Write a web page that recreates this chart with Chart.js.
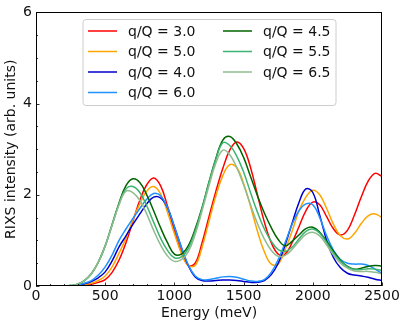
<!DOCTYPE html>
<html>
<head>
<meta charset="utf-8">
<script src="https://cdn.jsdelivr.net/npm/chart.js@4/dist/chart.umd.min.js"></script>
<style>
  html, body { margin: 0; padding: 0; background: #ffffff; }
  #wrap { position: relative; width: 407px; height: 327px; }
</style>
</head>
<body>
<div id="wrap"><canvas id="c" width="407" height="327"></canvas></div>
<script>
// ---- data (energies in meV, intensities in arb. units) ----
const energy = [0,50,100,150,200,250,300,350,400,450,500,550,600,650,700,750,800,850,900,950,
  1000,1050,1100,1150,1200,1250,1300,1350,1400,1450,1500,1550,1600,1650,1700,1750,1800,1850,1900,1950,
  2000,2050,2100,2150,2200,2250,2300,2350,2400,2450,2500];

const seriesLabels = ['q/Q = 3.0','q/Q = 5.0','q/Q = 4.0','q/Q = 6.0','q/Q = 4.5','q/Q = 5.5','q/Q = 6.5'];
const seriesColors = ['#ff0000','#ffa500','#0000cd','#1e90ff','#006400','#3cb371','#8fbc8f'];

const q30 = [0,0,0,0,0,0,0.01,0.02,0.04,0.08,0.14,0.30,0.57,0.95,1.42,1.88,2.22,2.37,2.20,1.75,
  1.20,0.75,0.45,0.50,0.95,1.52,2.08,2.58,2.98,3.16,3.02,2.60,2.00,1.40,0.95,0.70,0.70,0.95,1.30,1.65,
  1.84,1.78,1.52,1.25,1.12,1.22,1.55,1.95,2.30,2.47,2.40];
const q50 = [0,0,0,0,0,0,0.01,0.03,0.06,0.12,0.22,0.42,0.72,1.05,1.45,1.80,2.08,2.18,2.02,1.62,
  1.15,0.72,0.45,0.45,0.85,1.42,1.98,2.42,2.66,2.60,2.25,1.75,1.20,0.75,0.48,0.48,0.80,1.20,1.65,1.95,
  2.10,2.00,1.70,1.35,1.10,1.03,1.15,1.37,1.54,1.58,1.50];
const q40 = [0,0,0,0,0,0,0.02,0.05,0.10,0.18,0.31,0.55,0.86,1.10,1.35,1.58,1.80,1.95,1.93,1.72,
  1.30,0.85,0.45,0.20,0.12,0.11,0.12,0.13,0.13,0.12,0.10,0.08,0.08,0.12,0.25,0.50,0.90,1.37,1.83,2.13,
  2.05,1.55,1.00,0.62,0.40,0.28,0.24,0.22,0.19,0.15,0.12];
const q60 = [0,0,0,0,0,0,0.02,0.06,0.12,0.24,0.42,0.68,1.00,1.25,1.48,1.70,1.90,2.03,1.98,1.72,
  1.30,0.85,0.46,0.22,0.14,0.14,0.17,0.20,0.21,0.19,0.15,0.11,0.10,0.14,0.30,0.58,0.95,1.35,1.65,1.80,
  1.78,1.50,1.10,0.78,0.58,0.50,0.48,0.48,0.45,0.37,0.27];
const q45 = [0,0,0,0,0,0.01,0.04,0.12,0.27,0.52,0.88,1.35,1.82,2.20,2.35,2.27,2.00,1.65,1.28,0.95,
  0.70,0.70,0.88,1.25,1.72,2.28,2.80,3.20,3.28,3.12,2.82,2.40,1.98,1.60,1.28,1.02,0.88,0.98,1.12,1.26,
  1.29,1.18,0.98,0.76,0.56,0.43,0.37,0.39,0.43,0.45,0.44];
const q55 = [0,0,0,0,0,0.01,0.04,0.12,0.27,0.52,0.88,1.34,1.80,2.13,2.18,2.05,1.76,1.40,1.05,0.78,
  0.62,0.64,0.82,1.20,1.70,2.27,2.78,3.14,3.08,2.85,2.50,2.05,1.62,1.25,0.98,0.80,0.76,0.85,1.03,1.20,
  1.25,1.16,0.95,0.72,0.54,0.42,0.36,0.36,0.38,0.37,0.34];
const q65 = [0,0,0,0,0,0.01,0.04,0.12,0.27,0.52,0.88,1.33,1.78,2.08,2.05,1.88,1.58,1.22,0.90,0.66,
  0.54,0.58,0.75,1.13,1.65,2.20,2.70,2.98,2.88,2.60,2.22,1.78,1.37,1.03,0.78,0.65,0.67,0.80,0.98,1.13,
  1.18,1.10,0.90,0.68,0.50,0.39,0.33,0.32,0.32,0.30,0.27];

const seriesValues = [q30, q50, q40, q60, q45, q55, q65];

const xTicks = [0, 500, 1000, 1500, 2000, 2500];
const yTicks = [0, 2, 4, 6];

// ---- chart ----
const FONT = "'DejaVu Sans', 'Liberation Sans', sans-serif";
const TXT = '#111111';

const datasets = seriesValues.map((vals, i) => ({
  label: seriesLabels[i],
  data: energy.map((e, k) => ({x: e, y: vals[k]})),
  borderColor: seriesColors[i],
  backgroundColor: seriesColors[i],
  borderWidth: 1.5,
  pointRadius: 0,
  tension: 0.4,
  fill: false,
  order: seriesValues.length - i
}));

const frameTicks = {
  id: 'frameTicks',
  afterDatasetsDraw(chart) {
    const {ctx, chartArea: a, scales: {x, y}} = chart;
    ctx.save();
    ctx.strokeStyle = '#000';
    ctx.lineWidth = 0.8;
    for (let v = 0; v <= 2500; v += 100) {
      const px = Math.round(x.getPixelForValue(v)) + 0.5;
      const len = (v % 500 === 0) ? 3.5 : 2;
      ctx.beginPath(); ctx.moveTo(px, a.bottom); ctx.lineTo(px, a.bottom - len); ctx.stroke();
    }
    for (let v = 0; v <= 6.0001; v += 0.5) {
      const py = Math.round(y.getPixelForValue(v)) + 0.5;
      const len = (Math.abs(v % 2) < 1e-6) ? 3.5 : 2;
      ctx.beginPath(); ctx.moveTo(a.left, py); ctx.lineTo(a.left + len, py); ctx.stroke();
    }
    ctx.lineWidth = 1;
    ctx.strokeRect(Math.round(a.left) + 0.5, Math.round(a.top) + 0.5,
                   Math.round(a.right - a.left) - 1, Math.round(a.bottom - a.top) - 1);
    ctx.restore();
  }
};

const legendBox = {
  id: 'legendBox',
  afterDatasetsDraw(chart) {
    const ctx = chart.ctx;
    const bx = 83, by = 19.5, bw = 253, bh = 86, r = 3;
    ctx.save();
    ctx.beginPath();
    ctx.moveTo(bx + r, by);
    ctx.lineTo(bx + bw - r, by); ctx.quadraticCurveTo(bx + bw, by, bx + bw, by + r);
    ctx.lineTo(bx + bw, by + bh - r); ctx.quadraticCurveTo(bx + bw, by + bh, bx + bw - r, by + bh);
    ctx.lineTo(bx + r, by + bh); ctx.quadraticCurveTo(bx, by + bh, bx, by + bh - r);
    ctx.lineTo(bx, by + r); ctx.quadraticCurveTo(bx, by, bx + r, by);
    ctx.closePath();
    ctx.fillStyle = 'rgba(255,255,255,0.8)';
    ctx.fill();
    ctx.strokeStyle = '#cccccc';
    ctx.lineWidth = 1;
    ctx.stroke();
    const rowsY = [31, 51.5, 72, 92.5];
    const cols = [{lx: 88, tx: 128}, {lx: 223, tx: 263}];
    ctx.font = '14px ' + FONT;
    ctx.textBaseline = 'middle';
    ctx.textAlign = 'left';
    chart.data.datasets.forEach((ds, i) => {
      const col = i < 4 ? 0 : 1;
      const row = i < 4 ? i : i - 4;
      const c = cols[col], yy = rowsY[row];
      ctx.strokeStyle = ds.borderColor;
      ctx.lineWidth = 1.5;
      ctx.beginPath(); ctx.moveTo(c.lx, yy); ctx.lineTo(c.lx + 29, yy); ctx.stroke();
      ctx.fillStyle = TXT;
      ctx.fillText(ds.label, c.tx, yy + 1);
    });
    ctx.restore();
  }
};

new Chart(document.getElementById('c'), {
  type: 'line',
  data: { datasets },
  plugins: [frameTicks, legendBox],
  options: {
    responsive: false,
    animation: false,
    layout: { padding: { top: 12, right: 25, left: 0, bottom: 0 } },
    plugins: { legend: { display: false }, tooltip: { enabled: false } },
    scales: {
      x: {
        type: 'linear', min: 0, max: 2500,
        afterFit(s) { s.height = 41; },
        afterBuildTicks(s) { s.ticks = xTicks.map(v => ({value: v})); },
        grid: { display: false, drawTicks: false },
        border: { display: false },
        ticks: { color: TXT, font: { family: FONT, size: 14 }, padding: 2, maxRotation: 0,
                 callback: v => String(v) },
        title: { display: true, text: 'Energy (meV)', color: TXT,
                 font: { family: FONT, size: 14 }, padding: { top: 0, bottom: 5 } }
      },
      y: {
        type: 'linear', min: 0, max: 6,
        afterFit(s) { s.width = 36; },
        afterBuildTicks(s) { s.ticks = yTicks.map(v => ({value: v})); },
        grid: { display: false, drawTicks: false },
        border: { display: false },
        ticks: { color: TXT, font: { family: FONT, size: 14 }, padding: 4,
                 callback: v => String(v) },
        title: { display: true, text: 'RIXS intensity (arb. units)', color: TXT,
                 font: { family: FONT, size: 14 }, padding: { top: 3, bottom: 0 } }
      }
    }
  }
});
</script>
</body>
</html>
